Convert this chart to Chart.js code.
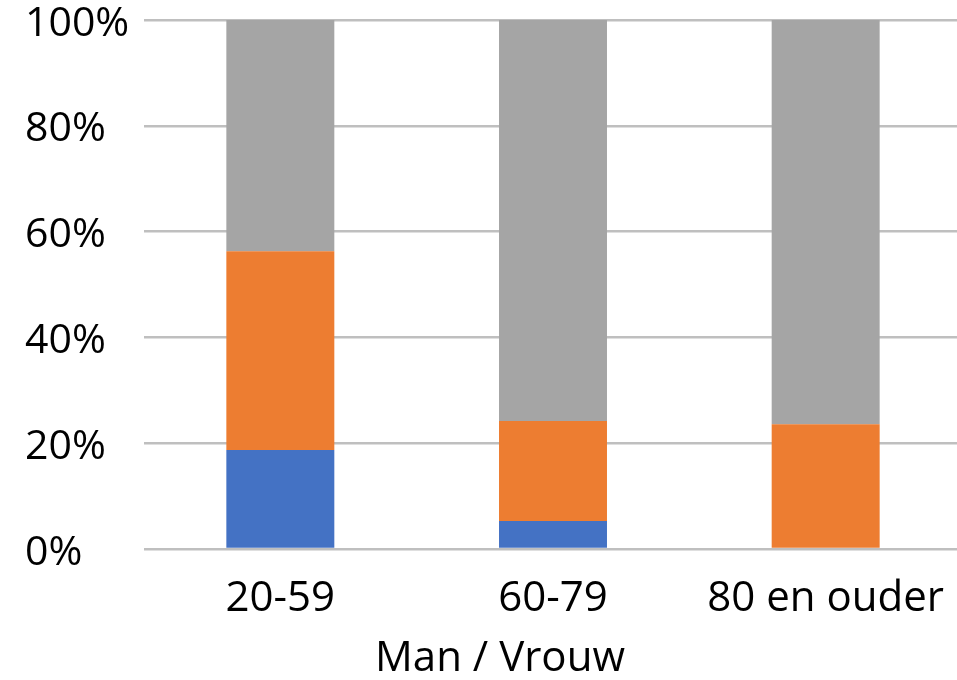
<!DOCTYPE html>
<html>
<head>
<meta charset="utf-8">
<script src="https://cdn.jsdelivr.net/npm/chart.js@4/dist/chart.umd.min.js"></script>
<style>
  html, body { margin: 0; padding: 0; background: #fff; overflow: hidden; }
  #wrap { position: absolute; left: 0; top: 0; width: 962px; height: 680px; }
</style>
</head>
<body>
<div id="wrap"><canvas id="chart"></canvas></div>
<script>
// categorieën en waarden (percentages)
var categories = ["20-59", "60-79", "80 en ouder"];
var blueValues = [18.7, 5.3, 0];
var orangeValues = [37.6, 18.9, 23.6];
var grayValues = [43.7, 75.8, 76.4];
var yTicks = [0, 20, 40, 60, 80, 100];
var axisTitle = "Man / Vrouw";

var ctx = document.getElementById("chart").getContext("2d");

// astitel onder de grafiek, iets links van het midden zoals in Excel
var titlePlugin = {
    id: "axisTitle",
    afterDraw: function (chart) {
        var c = chart.ctx;
        c.save();
        c.font = "42px 'Open Sans'";
        c.fillStyle = "#000";
        c.textAlign = "center";
        c.textBaseline = "middle";
        c.fillText(axisTitle, 500, 659);
        c.restore();
    }
};

new Chart(ctx, {
    type: "bar",
    data: {
        labels: categories,
        datasets: [
            { label: "1", data: blueValues, backgroundColor: "#4472c4" },
            { label: "2", data: orangeValues, backgroundColor: "#ed7d31" },
            { label: "3", data: grayValues, backgroundColor: "#a5a5a5" }
        ]
    },
    plugins: [titlePlugin],
    options: {
        responsive: true,
        maintainAspectRatio: false,
        animation: false,
        layout: { padding: { top: 0, right: 0, bottom: 0, left: 25 } },
        plugins: {
            legend: { display: false },
            tooltip: { enabled: false }
        },
        datasets: {
            bar: { categoryPercentage: 1, barPercentage: 0.396 }
        },
        scales: {
            x: {
                stacked: true,
                grid: { display: false },
                border: { display: false },
                afterFit: function (scale) { scale.height = 131; },
                ticks: {
                    color: "#000",
                    font: { family: "Open Sans", size: 42 },
                    padding: 17
                }
            },
            y: {
                stacked: true,
                min: 0,
                max: 100,
                afterBuildTicks: function (scale) {
                    scale.ticks = yTicks.map(function (v) { return { value: v }; });
                },
                afterFit: function (scale) {
                    scale.width = 119;
                    scale.paddingTop = 20;
                    scale.paddingBottom = 0;
                },
                grid: { color: "#bfbfbf", lineWidth: 2.5, drawTicks: false },
                border: { display: false },
                ticks: {
                    color: "#000",
                    font: { family: "Open Sans", size: 41 },
                    padding: 16,
                    labelOffset: 4,
                    crossAlign: "far",
                    callback: function (v) { return v + "%"; }
                }
            }
        }
    }
});
</script>
</body>
</html>
